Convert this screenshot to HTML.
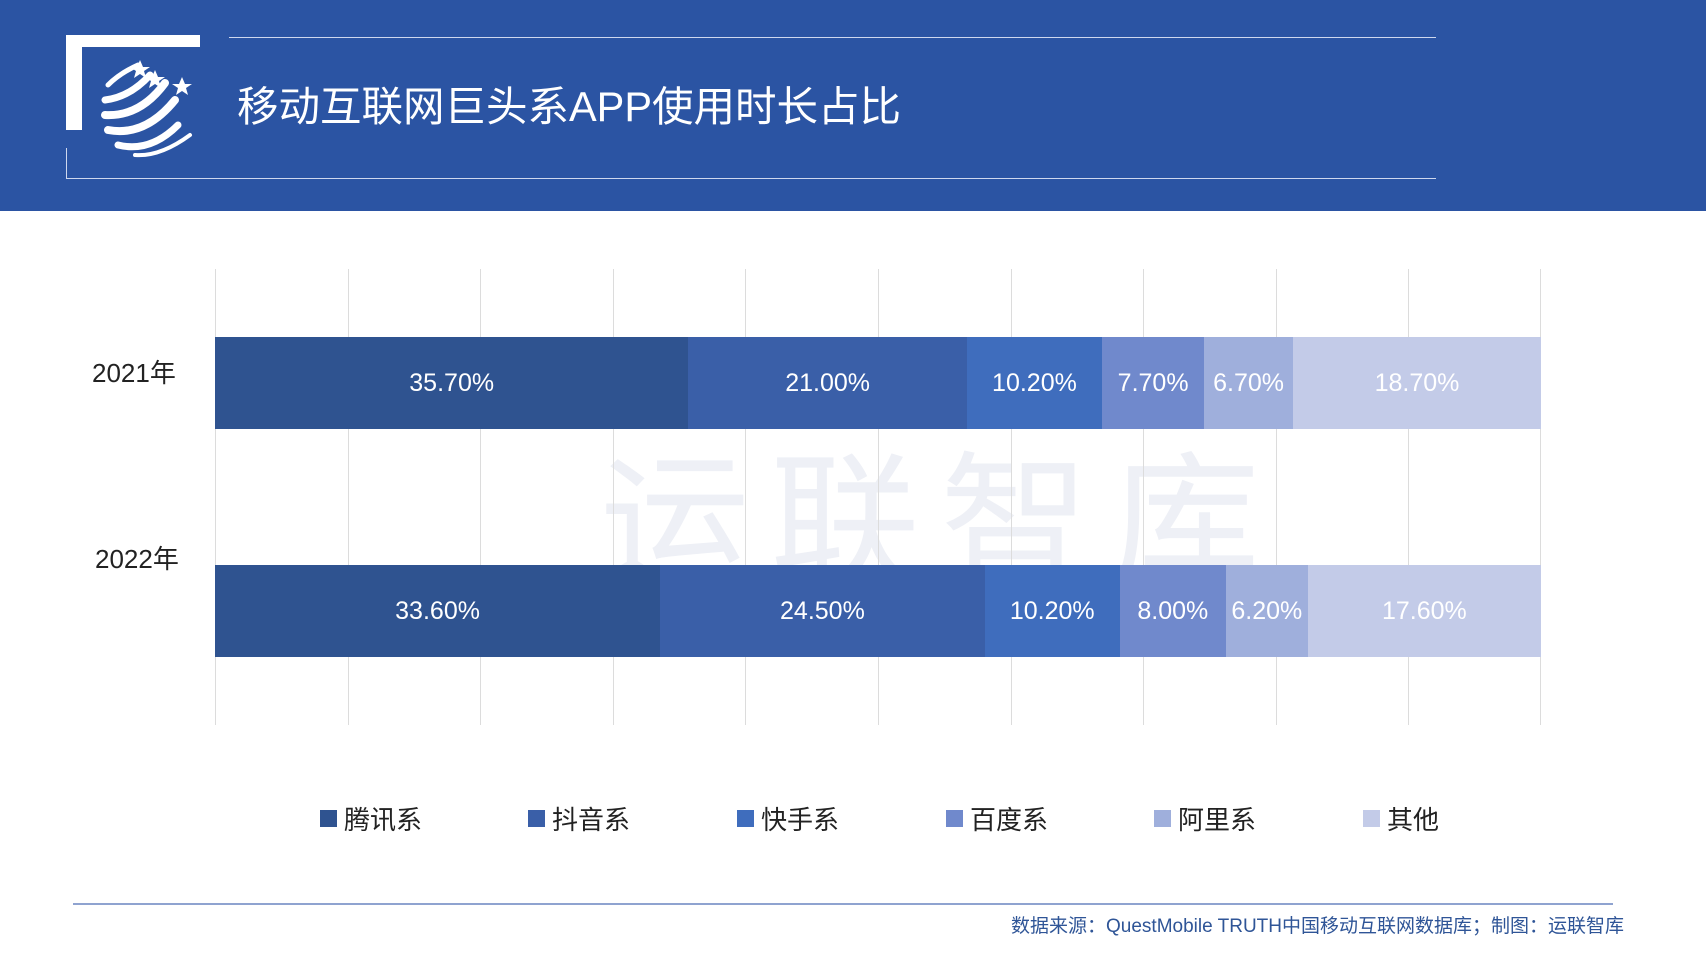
<!DOCTYPE html>
<html><head><meta charset="utf-8"><style>
*{margin:0;padding:0;box-sizing:border-box}
body{width:1706px;height:960px;background:#fff;position:relative;overflow:hidden;font-family:"Liberation Sans","Noto Sans CJK SC",sans-serif}
.a{position:absolute}
.bar{position:absolute;height:92px;display:flex}
.bar div{height:100%;color:#fff;font-size:25px;display:flex;align-items:center;justify-content:center;white-space:nowrap}
.c1{background:#2f5390}.c2{background:#3a5fa8}.c3{background:#3f6dbd}.c4{background:#7089cc}.c5{background:#9fafdc}.c6{background:#c3cbe8}
.g{position:absolute;top:269px;height:456px;width:1px;background:#dcdcdc}
.lg{position:absolute;top:800px;font-size:26px;color:#222;display:flex;align-items:center}
.lg span{display:inline-block;width:17px;height:17px;margin-right:7px}
</style></head><body>
<div class="a" style="left:0;top:0;width:1706px;height:211px;background:#2b54a3"></div>
<div class="a" style="left:66px;top:35px;width:134px;height:12px;background:#fff"></div>
<div class="a" style="left:66px;top:35px;width:16px;height:95px;background:#fff"></div>
<div class="a" style="left:66px;top:148px;width:1px;height:31px;background:#cfd8ee"></div>
<div class="a" style="left:66px;top:178px;width:1370px;height:1px;background:#cfd8ee"></div>
<div class="a" style="left:229px;top:37px;width:1207px;height:1px;background:#cfd8ee"></div>
<svg class="a" style="left:100px;top:55px" width="100" height="105" viewBox="0 0 100 105">
<g fill="none" stroke="#fff" stroke-linecap="round">
<path d="M8 30 Q20 18 38 10" stroke-width="5"/>
<path d="M5 45 Q30 42 50 20" stroke-width="7"/>
<path d="M5 60 Q40 62 65 28" stroke-width="8"/>
<path d="M8 75 Q45 82 75 45" stroke-width="8"/>
<path d="M18 90 Q50 98 78 70" stroke-width="7"/>
<path d="M35 100 Q60 102 90 80" stroke-width="4"/>
</g>
<g fill="#fff"><polygon points="40,5 43,12 50,12 44,16 46,23 40,19 34,23 36,16 30,12 37,12"/>
<polygon points="55,15 58,22 65,22 59,26 61,33 55,29 49,33 51,26 45,22 52,22"/>
<polygon points="82,22 85,29 92,29 86,33 88,40 82,36 76,40 78,33 72,29 79,29"/></g>
</svg>
<div class="a" style="left:237px;top:83px;font-size:41.5px;color:#fff;line-height:48px">移动互联网巨头系APP使用时长占比</div>

<div class="a" style="left:600px;top:450px;font-size:150px;color:#eef0f6;line-height:150px;letter-spacing:20px">运联智库</div>
<div class="g" style="left:215px"></div><div class="g" style="left:348px"></div><div class="g" style="left:480px"></div><div class="g" style="left:613px"></div><div class="g" style="left:745px"></div><div class="g" style="left:878px"></div><div class="g" style="left:1011px"></div><div class="g" style="left:1143px"></div><div class="g" style="left:1276px"></div><div class="g" style="left:1408px"></div><div class="g" style="left:1540px"></div>

<div class="a" style="left:92px;top:353px;font-size:26px;color:#222">2021年</div>
<div class="a" style="left:95px;top:539px;font-size:26px;color:#222">2022年</div>

<div class="bar" style="left:215px;top:337px;width:1326px">
<div class="c1" style="width:35.7%">35.70%</div><div class="c2" style="width:21%">21.00%</div><div class="c3" style="width:10.2%">10.20%</div><div class="c4" style="width:7.7%">7.70%</div><div class="c5" style="width:6.7%">6.70%</div><div class="c6" style="width:18.7%">18.70%</div></div>
<div class="bar" style="left:215px;top:565px;width:1326px">
<div class="c1" style="width:33.57%">33.60%</div><div class="c2" style="width:24.48%">24.50%</div><div class="c3" style="width:10.19%">10.20%</div><div class="c4" style="width:7.99%">8.00%</div><div class="c5" style="width:6.19%">6.20%</div><div class="c6" style="width:17.58%">17.60%</div></div>

<div class="lg" style="left:320px"><span class="c1"></span>腾讯系</div>
<div class="lg" style="left:528px"><span class="c2"></span>抖音系</div>
<div class="lg" style="left:737px"><span class="c3"></span>快手系</div>
<div class="lg" style="left:946px"><span class="c4"></span>百度系</div>
<div class="lg" style="left:1154px"><span class="c5"></span>阿里系</div>
<div class="lg" style="left:1363px"><span class="c6"></span>其他</div>

<div class="a" style="left:73px;top:903px;width:1540px;height:2px;background:#8fa3d0"></div>
<div class="a" style="right:82px;top:911px;font-size:19px;color:#2f5597">数据来源：QuestMobile TRUTH中国移动互联网数据库；制图：运联智库</div>
</body></html>
